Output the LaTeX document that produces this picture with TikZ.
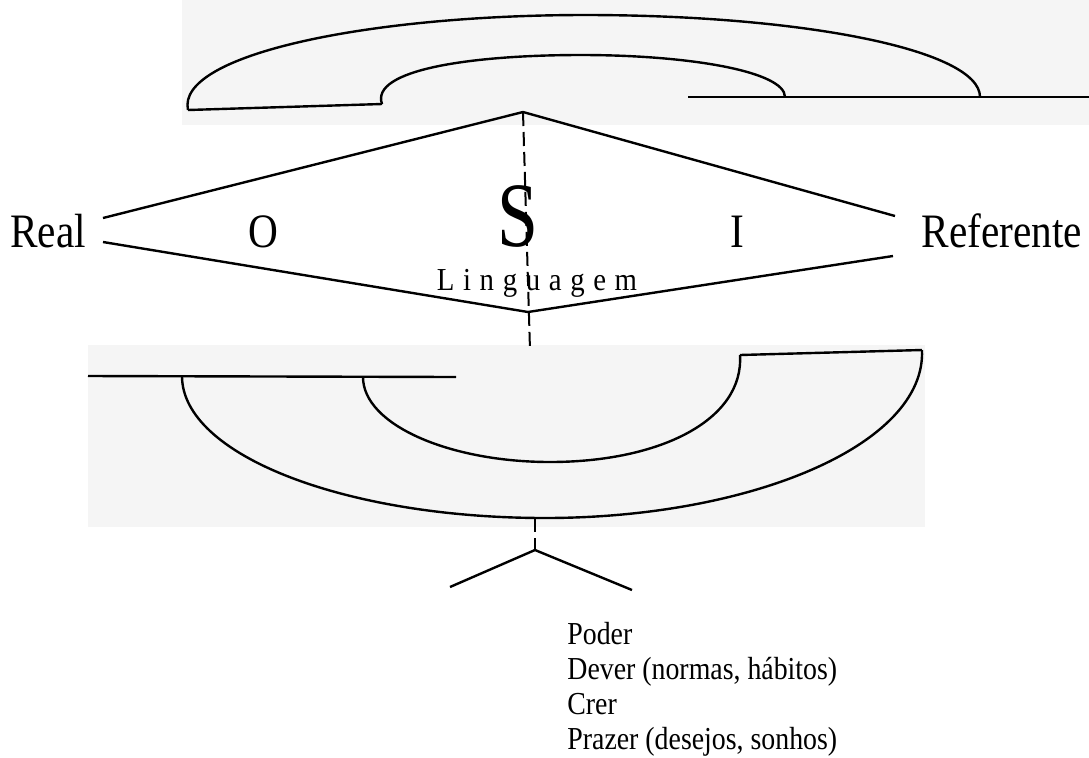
\documentclass[tikz,border=0pt]{standalone}
\usepackage{graphicx}
\usepackage{fontspec}
\setmainfont{Liberation Serif}
\newfontfamily\spacedfont[LetterSpace=30]{Liberation Serif}
\usepackage{tikz}
\newcommand{\narrow}[2][0.86]{\scalebox{#1}[1]{#2}}

\begin{document}
\begin{tikzpicture}[x=0.5pt, y=-0.5pt, >=stealth]
\tikzstyle{word} = [inner sep=0pt, anchor=base, font=\fontsize{24}{28}\selectfont]
\tikzstyle{line} = [draw, line width=1.2pt]
\tikzstyle{dashline} = [draw, line width=1pt, dash pattern=on 7pt off 3pt]
\tikzstyle{noise} = [fill=black!4, draw=none]

\useasboundingbox (0,0) rectangle (1089,757);

% grey paper behind the two arcs
\path [noise] (182,0) rectangle (1089,125);
\path [noise] (88,345) rectangle (925,527);

% top arc
\path [line] (188,110) .. controls (176,55) and (367,15) .. (585,15)
  .. controls (803,15) and (980,50) .. (980,97);
\path [line] (382,104) .. controls (370,70) and (470,55) .. (581,55)
  .. controls (692,55) and (785,72) .. (785,97);
\path [line] (188,110) -- (382,104);
\path [line] (688,97) -- (1089,97);

% diamond
\node [word] (real) at (48,247) {\narrow{Real}};
\node [word] (ref) at (1002,247) {\narrow{Referente}};
\node [word] (o) at (263,247) {\narrow{O}};
\node [word] (i) at (737,247) {\narrow{I}};
\node [word, font=\fontsize{46}{50}\selectfont] (s) at (518,246) {\narrow[0.8]{S}};
\node [word, font=\spacedfont\fontsize{16}{18}\selectfont] (ling) at (537,290) {\narrow[0.9]{Linguagem}};

\coordinate (top) at (523,112);
\coordinate (bot) at (528,312);
\coordinate (realup) at (103,218);
\coordinate (reallow) at (103,242);
\coordinate (refup) at (895,216);
\coordinate (reflow) at (893,256);
\coordinate (dashend) at (530,350);

\path [line] (realup) -- (top);
\path [line] (top) -- (refup);
\path [line] (reallow) -- (bot);
\path [line] (bot) -- (reflow);
\path [dashline] (top) -- (dashend);

% bottom arc
\path [line] (88,376) -- (456,377);
\path [line] (182,376) .. controls (182,455) and (345,518) .. (545,518)
  .. controls (750,518) and (926,445) .. (922,350);
\path [line] (363,377) .. controls (363,425) and (450,462) .. (550,462)
  .. controls (660,462) and (744,420) .. (740,355);
\path [line] (740,355) -- (922,350);

% branch
\coordinate (arcbot) at (535,518);
\coordinate (fork) at (535,550);
\coordinate (legl) at (450,587);
\coordinate (legr) at (632,590);
\path [dashline] (arcbot) -- (fork);
\path [line] (legl) -- (fork) -- (legr);

\node [inner sep=0pt, anchor=north west, align=left,
  font=\fontsize{16}{17.4}\selectfont] (list) at (567,622)
  {\narrow[0.87]{Poder}\\\narrow[0.87]{Dever (normas, hábitos)}\\
   \narrow[0.87]{Crer}\\\narrow[0.87]{Prazer (desejos, sonhos)}};
\end{tikzpicture}
\end{document}
